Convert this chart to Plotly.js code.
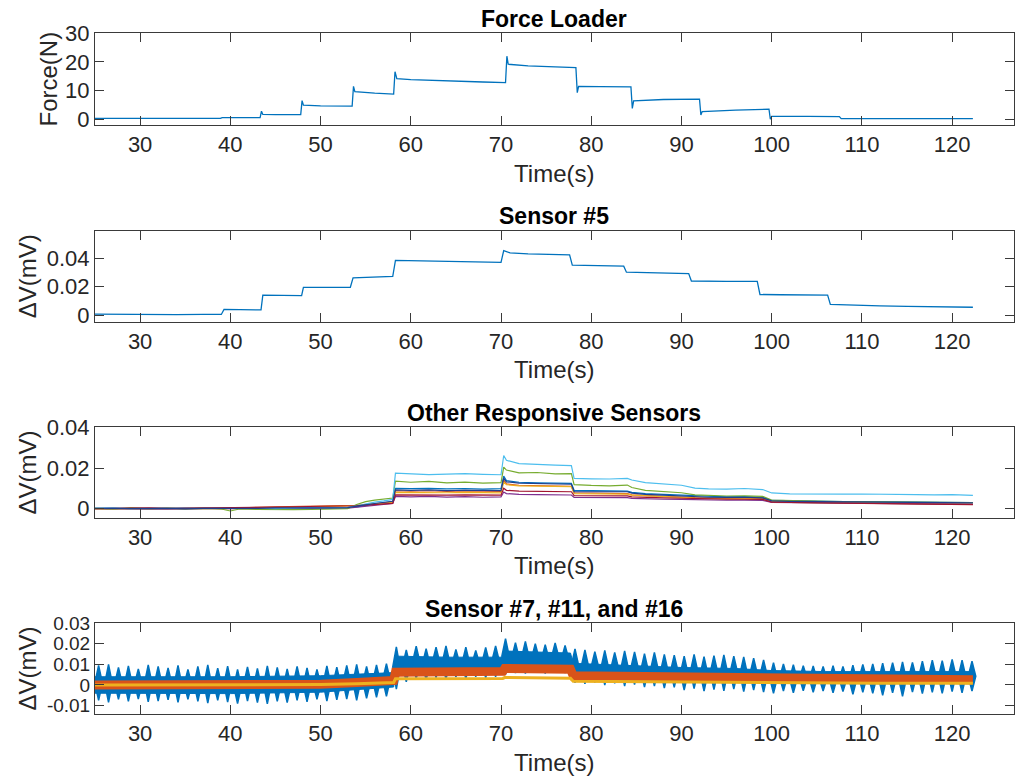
<!DOCTYPE html>
<html>
<head>
<meta charset="utf-8">
<script src="https://cdn.plot.ly/plotly-3.0.1.min.js"></script>
<style>html,body{margin:0;padding:0;background:#fff}#chart{width:1015px;height:778px}</style>
</head>
<body>
<div id="chart"></div>
<script>
// ---------- Panel 1: Force Loader ----------
const forceTime = [25, 30, 35, 38.9, 39.1, 43.3, 43.45, 43.6, 45, 47.8, 47.95, 48.1, 50, 53.5, 53.65, 53.8, 56, 58.1, 58.25, 58.45, 60, 64, 68, 70.5, 70.65, 70.8, 73, 76, 78.3, 78.45, 78.6, 81, 84.4, 84.55, 84.7, 88, 92.0, 92.15, 92.3, 96, 99.7, 99.85, 100.0, 104, 107.5, 107.7, 112, 117, 122.3];
const forceN    = [0.3, 0.3, 0.3, 0.3, 0.6, 0.6, 2.8, 1.7, 1.6, 1.6, 6.5, 4.9, 4.7, 4.6, 11.5, 9.6, 9.1, 8.8, 16.6, 14.2, 13.8, 13.3, 13.0, 12.8, 22.0, 19.2, 18.6, 18.3, 18.0, 9.3, 11.5, 11.4, 11.3, 3.8, 6.4, 6.9, 7.0, 1.5, 2.7, 3.2, 3.5, 0.0, 1.0, 1.0, 0.9, 0.2, 0.2, 0.2, 0.2];

// ---------- Panel 2: Sensor #5 ----------
const s5Time = [25, 28, 31, 34, 37, 39.0, 39.3, 41, 43.4, 43.6, 45, 47.9, 48.1, 50, 53.3, 53.6, 56, 58.0, 58.3, 61, 64, 67, 70.0, 70.3, 71, 73, 75, 77.6, 77.9, 80, 83.6, 83.9, 86, 88, 90.8, 91.1, 93, 95, 98.4, 98.7, 101, 104, 106.2, 106.5, 109, 112, 115, 118, 120, 122.3];
const s5mV   = [0.0006, 0.0004, 0.0005, 0.0003, 0.0004, 0.0004, 0.0040, 0.0038, 0.0036, 0.0140, 0.0138, 0.0137, 0.0195, 0.0194, 0.0196, 0.0262, 0.0268, 0.0273, 0.0385, 0.0383, 0.0378, 0.0374, 0.0372, 0.0455, 0.0438, 0.0432, 0.0428, 0.0425, 0.0352, 0.0348, 0.0345, 0.0302, 0.0298, 0.0296, 0.0292, 0.0240, 0.0236, 0.0237, 0.0238, 0.0145, 0.0143, 0.0142, 0.0140, 0.0075, 0.0068, 0.0064, 0.0061, 0.0059, 0.0058, 0.0055];

// ---------- Panel 3: Other Responsive Sensors ----------
const otherTime = [25, 27, 29, 31, 33, 35, 37, 39, 40, 41, 43, 45, 47, 49, 51, 53, 54, 55, 56, 57, 58, 58.3, 60, 62, 64, 66, 68, 70, 70.3, 70.6, 72, 74, 76, 77.8, 78.1, 80, 82, 84, 84.5, 86, 88, 90, 91.5, 93, 95, 97, 99, 100, 102, 104, 106, 108, 110, 112, 114, 116, 118, 120, 122.3];
const otherBlue = [0.0000, 0.0002, -0.0001, 0.0001, 0.0000, 0.0002, 0.0001, 0.0000, 0.0001, 0.0003, 0.0002, 0.0001, 0.0004, 0.0003, 0.0005, 0.0004, 0.0008, 0.0016, 0.0022, 0.0028, 0.0034, 0.0100, 0.0098, 0.0100, 0.0097, 0.0099, 0.0096, 0.0098, 0.0160, 0.0138, 0.0130, 0.0127, 0.0125, 0.0124, 0.0090, 0.0088, 0.0087, 0.0086, 0.0080, 0.0074, 0.0070, 0.0066, 0.0062, 0.0060, 0.0058, 0.0059, 0.0056, 0.0040, 0.0038, 0.0037, 0.0036, 0.0035, 0.0034, 0.0033, 0.0034, 0.0032, 0.0031, 0.0032, 0.0030];
const otherOrange = [0.0001, -0.0001, 0.0002, 0.0000, -0.0002, 0.0001, 0.0003, 0.0000, 0.0002, 0.0004, 0.0006, 0.0008, 0.0010, 0.0011, 0.0012, 0.0013, 0.0016, 0.0020, 0.0024, 0.0028, 0.0032, 0.0088, 0.0086, 0.0088, 0.0085, 0.0087, 0.0086, 0.0085, 0.0140, 0.0122, 0.0115, 0.0113, 0.0112, 0.0110, 0.0078, 0.0077, 0.0075, 0.0074, 0.0068, 0.0064, 0.0060, 0.0057, 0.0054, 0.0052, 0.0051, 0.0052, 0.0050, 0.0034, 0.0032, 0.0031, 0.0030, 0.0029, 0.0028, 0.0027, 0.0026, 0.0025, 0.0026, 0.0024, 0.0022];
const otherYellow = [-0.0001, 0.0001, 0.0000, -0.0002, 0.0001, 0.0000, 0.0002, 0.0001, 0.0000, 0.0002, 0.0004, 0.0005, 0.0007, 0.0008, 0.0010, 0.0010, 0.0014, 0.0019, 0.0023, 0.0027, 0.0030, 0.0080, 0.0079, 0.0081, 0.0078, 0.0080, 0.0079, 0.0078, 0.0132, 0.0118, 0.0112, 0.0110, 0.0109, 0.0108, 0.0074, 0.0073, 0.0072, 0.0071, 0.0066, 0.0062, 0.0058, 0.0055, 0.0052, 0.0051, 0.0050, 0.0049, 0.0047, 0.0032, 0.0030, 0.0029, 0.0028, 0.0027, 0.0027, 0.0026, 0.0025, 0.0024, 0.0025, 0.0023, 0.0021];
const otherPurple = [0.0000, -0.0001, 0.0001, -0.0001, 0.0000, -0.0002, 0.0000, -0.0001, -0.0002, 0.0000, -0.0001, 0.0001, 0.0000, 0.0002, 0.0001, 0.0002, 0.0006, 0.0012, 0.0017, 0.0021, 0.0025, 0.0060, 0.0058, 0.0060, 0.0057, 0.0059, 0.0056, 0.0058, 0.0082, 0.0074, 0.0070, 0.0069, 0.0068, 0.0067, 0.0055, 0.0054, 0.0053, 0.0054, 0.0050, 0.0047, 0.0046, 0.0045, 0.0043, 0.0042, 0.0041, 0.0042, 0.0040, 0.0030, 0.0029, 0.0028, 0.0027, 0.0026, 0.0026, 0.0025, 0.0024, 0.0024, 0.0023, 0.0022, 0.0021];
const otherGreen = [0.0001, -0.0002, 0.0003, 0.0000, 0.0002, -0.0001, 0.0001, -0.0002, -0.0012, -0.0002, -0.0004, -0.0006, -0.0005, -0.0004, -0.0003, 0.0000, 0.0020, 0.0034, 0.0042, 0.0048, 0.0052, 0.0135, 0.0130, 0.0134, 0.0127, 0.0131, 0.0126, 0.0128, 0.0205, 0.0190, 0.0176, 0.0178, 0.0171, 0.0172, 0.0118, 0.0114, 0.0112, 0.0116, 0.0104, 0.0090, 0.0084, 0.0078, 0.0068, 0.0064, 0.0062, 0.0063, 0.0060, 0.0042, 0.0039, 0.0037, 0.0036, 0.0035, 0.0034, 0.0035, 0.0033, 0.0032, 0.0033, 0.0031, 0.0030];
const otherCyan = [0.0002, 0.0004, 0.0000, 0.0003, 0.0001, 0.0004, 0.0002, 0.0003, 0.0001, 0.0004, 0.0002, 0.0000, 0.0003, 0.0005, 0.0004, 0.0006, 0.0014, 0.0024, 0.0032, 0.0038, 0.0045, 0.0175, 0.0171, 0.0168, 0.0170, 0.0172, 0.0169, 0.0167, 0.0262, 0.0238, 0.0222, 0.0217, 0.0214, 0.0212, 0.0149, 0.0147, 0.0146, 0.0149, 0.0141, 0.0128, 0.0122, 0.0115, 0.0101, 0.0097, 0.0096, 0.0099, 0.0094, 0.0077, 0.0073, 0.0072, 0.0070, 0.0071, 0.0072, 0.0070, 0.0071, 0.0069, 0.0068, 0.0069, 0.0065];
const otherRed = [0.0000, 0.0002, 0.0001, 0.0003, 0.0001, 0.0002, 0.0000, 0.0003, 0.0002, 0.0004, 0.0005, 0.0007, 0.0009, 0.0010, 0.0011, 0.0012, 0.0014, 0.0017, 0.0020, 0.0023, 0.0026, 0.0068, 0.0067, 0.0069, 0.0066, 0.0068, 0.0067, 0.0066, 0.0100, 0.0090, 0.0086, 0.0085, 0.0084, 0.0083, 0.0064, 0.0063, 0.0062, 0.0063, 0.0058, 0.0055, 0.0053, 0.0051, 0.0049, 0.0048, 0.0047, 0.0046, 0.0045, 0.0032, 0.0030, 0.0029, 0.0028, 0.0027, 0.0026, 0.0025, 0.0025, 0.0024, 0.0023, 0.0022, 0.0020];
const otherNavy = [0.0001, 0.0000, 0.0002, 0.0000, 0.0001, -0.0001, 0.0001, 0.0000, 0.0001, 0.0002, 0.0001, 0.0003, 0.0002, 0.0004, 0.0003, 0.0005, 0.0010, 0.0018, 0.0025, 0.0030, 0.0036, 0.0092, 0.0090, 0.0092, 0.0089, 0.0091, 0.0090, 0.0089, 0.0150, 0.0132, 0.0126, 0.0123, 0.0121, 0.0120, 0.0084, 0.0083, 0.0082, 0.0083, 0.0076, 0.0070, 0.0066, 0.0062, 0.0058, 0.0056, 0.0055, 0.0056, 0.0053, 0.0038, 0.0036, 0.0035, 0.0034, 0.0033, 0.0033, 0.0032, 0.0032, 0.0031, 0.0030, 0.0030, 0.0028];

// ---------- Panel 4: Sensor #7, #11, #16 ----------
// sensor #7: continuous band between bursts + burst peaks
const s7BandTime = [25, 40, 50, 58.1, 58.3, 64, 70.2, 70.4, 74, 77.7, 78.0, 84, 90, 96, 100, 106, 112, 118, 122.3];
const s7BandHigh = [0.0040, 0.0040, 0.0045, 0.0060, 0.0140, 0.0135, 0.0135, 0.0165, 0.0160, 0.0155, 0.0105, 0.0095, 0.0085, 0.0080, 0.0070, 0.0065, 0.0065, 0.0068, 0.0065];
const s7BandLow  = [-0.0040, -0.0042, -0.0035, -0.0010, 0.0060, 0.0062, 0.0062, 0.0080, 0.0082, 0.0080, 0.0030, 0.0025, 0.0020, 0.0015, 0.0010, 0.0008, 0.0006, 0.0008, 0.0006];
const s7BurstTime = [25.4, 26.5, 27.6, 28.7, 29.8, 30.9, 32.0, 33.1, 34.2, 35.3, 36.4, 37.5, 38.6, 39.7, 40.8, 41.9, 43.0, 44.1, 45.2, 46.3, 47.4, 48.5, 49.6, 50.7, 51.8, 52.9, 54.0, 55.1, 56.2, 57.3,
  58.4, 59.5, 60.6, 61.7, 62.8, 63.9, 65.0, 66.1, 67.2, 68.3, 69.4,
  70.5, 71.6, 72.7, 73.8, 74.9, 76.0, 77.1,
  78.2, 79.3, 80.4, 81.5, 82.6, 83.7, 84.8, 85.9, 87.0, 88.1, 89.2, 90.3, 91.4, 92.5, 93.6, 94.7, 95.8, 96.9, 98.0, 99.1,
  100.2, 101.3, 102.4, 103.5, 104.6, 105.7, 106.8, 107.9, 109.0, 110.1, 111.2, 112.3, 113.4, 114.5, 115.6, 116.7, 117.8, 118.9, 120.0, 121.1, 122.2];
const s7BurstTop = [0.0095, 0.0100, 0.0085, 0.0092, 0.0078, 0.0098, 0.0090, 0.0083, 0.0095, 0.0076, 0.0090, 0.0097, 0.0082, 0.0092, 0.0075, 0.0088, 0.0080, 0.0093, 0.0085, 0.0078, 0.0090, 0.0083, 0.0076, 0.0092, 0.0086, 0.0095, 0.0100, 0.0090, 0.0097, 0.0104,
  0.0185, 0.0170, 0.0188, 0.0176, 0.0183, 0.0190, 0.0172, 0.0184, 0.0168, 0.0182, 0.0190,
  0.0225, 0.0205, 0.0212, 0.0200, 0.0196, 0.0204, 0.0192,
  0.0175, 0.0170, 0.0162, 0.0168, 0.0158, 0.0165, 0.0160, 0.0152, 0.0158, 0.0148, 0.0145, 0.0140, 0.0148, 0.0138, 0.0142, 0.0146, 0.0140, 0.0136, 0.0130, 0.0122,
  0.0108, 0.0102, 0.0098, 0.0094, 0.0092, 0.0090, 0.0094, 0.0090, 0.0096, 0.0100, 0.0102, 0.0106, 0.0108, 0.0112, 0.0110, 0.0116, 0.0120, 0.0118, 0.0124, 0.0120, 0.0115];
const s7BurstBottom = [-0.0075, -0.0085, -0.0070, -0.0080, -0.0068, -0.0082, -0.0078, -0.0072, -0.0085, -0.0070, -0.0080, -0.0088, -0.0075, -0.0083, -0.0090, -0.0078, -0.0086, -0.0092, -0.0080, -0.0085, -0.0075, -0.0082, -0.0070, -0.0078, -0.0072, -0.0068, -0.0075, -0.0065, -0.0060, -0.0055,
  -0.0020, 0.0015, 0.0030, 0.0025, 0.0035, 0.0028, 0.0038, 0.0030, 0.0040, 0.0035, 0.0040,
  0.0050, 0.0058, 0.0055, 0.0060, 0.0056, 0.0062, 0.0058,
  0.0010, 0.0005, 0.0012, 0.0000, 0.0008, -0.0005, 0.0002, -0.0010, -0.0005, -0.0015, -0.0012, -0.0025, -0.0018, -0.0030, -0.0022, -0.0028, -0.0020, -0.0032, -0.0025, -0.0035,
  -0.0040, -0.0030, -0.0038, -0.0028, -0.0035, -0.0030, -0.0038, -0.0032, -0.0045, -0.0035, -0.0040, -0.0050, -0.0038, -0.0055, -0.0035, -0.0042, -0.0036, -0.0040, -0.0032, -0.0038, -0.0030];
// sensors #11 and #16
const s11Time = [25, 35, 45, 50, 54, 58.1, 58.3, 64, 70.2, 70.4, 74, 77.7, 78.0, 84, 90, 96, 100, 106, 112, 118, 122.3];
const s11mV   = [0.0000, 0.0000, 0.0001, 0.0004, 0.0012, 0.0022, 0.0062, 0.0064, 0.0066, 0.0080, 0.0078, 0.0076, 0.0045, 0.0042, 0.0038, 0.0034, 0.0030, 0.0027, 0.0026, 0.0026, 0.0025];
const s16Time = [25, 35, 45, 50, 54, 58.1, 58.3, 64, 70.2, 70.4, 74, 77.7, 78.0, 84, 90, 96, 100, 106, 112, 118, 122.3];
const s16mV   = [0.0000, 0.0000, 0.0001, 0.0002, 0.0006, 0.0012, 0.0030, 0.0031, 0.0032, 0.0036, 0.0034, 0.0033, 0.0018, 0.0016, 0.0014, 0.0012, 0.0010, 0.0009, 0.0008, 0.0008, 0.0008];

// ---------- ticks / labels ----------
const xTickVals = [30, 40, 50, 60, 70, 80, 90, 100, 110, 120];
const yForceTicks = [0, 10, 20, 30];
const yS5Ticks = [0, 0.02, 0.04];
const yS5Text = ['0', '0.02', '0.04'];
const yOtherTicks = [0, 0.02, 0.04];
const yOtherText = ['0', '0.02', '0.04'];
const yS7Ticks = [-0.01, 0, 0.01, 0.02, 0.03];
const yS7Text = ['-0.01', '0', '0.01', '0.02', '0.03'];
const panelTitles = ['Force Loader', 'Sensor #5', 'Other Responsive Sensors', 'Sensor #7, #11, and #16'];

// ---------- styling ----------
const C = {blue:'#0072BD', orange:'#D95319', yellow:'#EDB120', purple:'#7E2F8E', green:'#77AC30', cyan:'#4DBEEE', red:'#A2142F', navy:'#1F3F8F'};
const FONT = 'Liberation Sans, Arial, Helvetica, sans-serif';
const W = 1015, H = 778;
const panelPx = [[33.3, 125], [230.7, 321.7], [427.3, 517.7], [623, 714]];
const xDomain = [95 / W, 1013.5 / W];
const BURST_HALF_WIDTH = 0.42; // drawing width of each burst spindle (s)

function line(x, y, color, xa, ya, width) {
  return {x, y, type:'scatter', mode:'lines', line:{color, width: width || 1.3}, xaxis:xa, yaxis:ya, hoverinfo:'skip'};
}

const traces = [];
traces.push(line(forceTime, forceN, C.blue, 'x', 'y'));
traces.push(line(s5Time, s5mV, C.blue, 'x2', 'y2'));
[[otherBlue, C.blue], [otherOrange, C.orange], [otherYellow, C.yellow], [otherPurple, C.purple],
 [otherGreen, C.green], [otherCyan, C.cyan], [otherRed, C.red], [otherNavy, C.navy]].forEach(([v, c]) => {
  traces.push(line(otherTime, v, c, 'x3', 'y3', 1.2));
});
// sensor #7 band
traces.push({x: s7BandTime.concat(s7BandTime.slice().reverse()),
             y: s7BandHigh.concat(s7BandLow.slice().reverse()),
             type:'scatter', mode:'lines', fill:'toself', fillcolor:C.blue,
             line:{color:C.blue, width:1}, xaxis:'x4', yaxis:'y4', hoverinfo:'skip'});
// sensor #7 bursts drawn as spindles from burst top to burst bottom
const bx = [], by = [];
s7BurstTime.forEach((t, i) => {
  const top = s7BurstTop[i], bot = s7BurstBottom[i], mid = (top + bot) / 2;
  bx.push(t - BURST_HALF_WIDTH, t, t + BURST_HALF_WIDTH, t, t - BURST_HALF_WIDTH, null);
  by.push(mid, top, mid, bot, mid, null);
});
traces.push({x:bx, y:by, type:'scatter', mode:'lines', fill:'toself', fillcolor:C.blue,
  line:{color:C.blue, width:1.5}, xaxis:'x4', yaxis:'y4', hoverinfo:'skip'});
traces.push(line(s11Time, s11mV, C.orange, 'x4', 'y4', 9));
traces.push(line(s16Time, s16mV, C.yellow, 'x4', 'y4', 3));

const axBase = {showline:true, mirror:'ticks', linecolor:'#3a3a3a', linewidth:1, ticks:'inside', ticklen:9, tickwidth:1,
  tickcolor:'#3a3a3a', showgrid:false, zeroline:false, fixedrange:true,
  tickfont:{family:FONT, size:22, color:'#262626'}};

const layout = {width:W, height:H, margin:{l:0, r:0, t:0, b:0}, paper_bgcolor:'#fff', plot_bgcolor:'#fff', showlegend:false,
  font:{family:FONT, color:'#262626'}, annotations:[]};

const yRanges = [[-2, 30], [-0.0047, 0.0595], [-0.0045, 0.0401], [-0.0141, 0.0301]];
const yTickSets = [[yForceTicks, yForceTicks.map(String)], [yS5Ticks, yS5Text], [yOtherTicks, yOtherText], [yS7Ticks, yS7Text]];
const yTickSizes = [22, 22, 22, 19];
const yTitles = ['Force(N)', 'ΔV(mV)', 'ΔV(mV)', 'ΔV(mV)'];
const yTitleStandoff = [0, 3, 3, 3];

for (let k = 0; k < 4; k++) {
  const sfx = k === 0 ? '' : String(k + 1);
  const [top, bot] = panelPx[k];
  layout['xaxis' + sfx] = Object.assign({}, axBase, {domain:xDomain, range:[25, 126.8], anchor:'y' + sfx,
    tickvals:xTickVals, ticktext:xTickVals.map(String),
    title:{text:'Time(s)', font:{family:FONT, size:24, color:'#262626'}, standoff:8}});
  layout['yaxis' + sfx] = Object.assign({}, axBase, {domain:[1 - bot / H, 1 - top / H], range:yRanges[k], anchor:'x' + sfx,
    tickvals:yTickSets[k][0], ticktext:yTickSets[k][1],
    tickfont:{family:FONT, size:yTickSizes[k], color:'#262626'},
    title:{text:yTitles[k], font:{family:FONT, size:24, color:'#262626'}, standoff:yTitleStandoff[k]}});
  layout.annotations.push({text:'<b>' + panelTitles[k] + '</b>', xref:'paper', yref:'paper',
    x:(xDomain[0] + xDomain[1]) / 2, y:1 - (top - 14.5) / H, xanchor:'center', yanchor:'middle', showarrow:false,
    font:{family:FONT, size:23, color:'#000'}});
}

Plotly.newPlot('chart', traces, layout, {displayModeBar:false, staticPlot:true});
</script>
</body>
</html>
